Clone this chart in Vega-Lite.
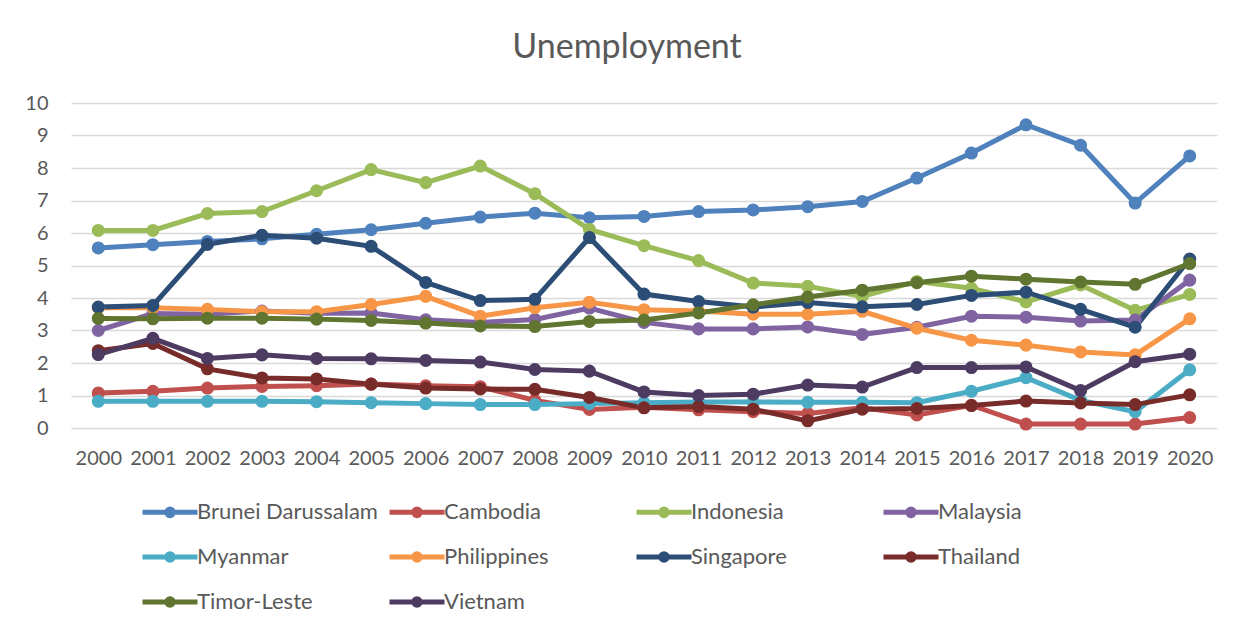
{
  "$schema": "https://vega.github.io/schema/vega-lite/v6.json",
  "width": 1146,
  "height": 325,
  "autosize": {"type": "none"},
  "padding": {"left": 71, "top": 103, "right": 18, "bottom": 204},
  "background": "white",
  "config": {
    "font": "Lato",
    "view": {"stroke": null}
  },
  "title": {
    "text": "Unemployment",
    "fontSize": 34,
    "fontWeight": "normal",
    "color": "#595959",
    "font": "Lato",
    "anchor": "middle",
    "baseline": "alphabetic",
    "offset": 1,
    "dx": -17
  },
  "data": {
    "values": [
      {"year": "2000", "Brunei Darussalam": 5.54, "Cambodia": 1.08, "Indonesia": 6.08, "Malaysia": 3.0, "Myanmar": 0.82, "Philippines": 3.7, "Singapore": 3.72, "Thailand": 2.38, "Timor-Leste": 3.37, "Vietnam": 2.26},
      {"year": "2001", "Brunei Darussalam": 5.64, "Cambodia": 1.13, "Indonesia": 6.08, "Malaysia": 3.52, "Myanmar": 0.82, "Philippines": 3.7, "Singapore": 3.77, "Thailand": 2.6, "Timor-Leste": 3.36, "Vietnam": 2.76},
      {"year": "2002", "Brunei Darussalam": 5.74, "Cambodia": 1.23, "Indonesia": 6.6, "Malaysia": 3.5, "Myanmar": 0.82, "Philippines": 3.65, "Singapore": 5.65, "Thailand": 1.82, "Timor-Leste": 3.38, "Vietnam": 2.14},
      {"year": "2003", "Brunei Darussalam": 5.82, "Cambodia": 1.28, "Indonesia": 6.66, "Malaysia": 3.6, "Myanmar": 0.82, "Philippines": 3.58, "Singapore": 5.93, "Thailand": 1.54, "Timor-Leste": 3.38, "Vietnam": 2.25},
      {"year": "2004", "Brunei Darussalam": 5.96, "Cambodia": 1.3, "Indonesia": 7.3, "Malaysia": 3.53, "Myanmar": 0.81, "Philippines": 3.58, "Singapore": 5.84, "Thailand": 1.51, "Timor-Leste": 3.35, "Vietnam": 2.14},
      {"year": "2005", "Brunei Darussalam": 6.1, "Cambodia": 1.35, "Indonesia": 7.95, "Malaysia": 3.54, "Myanmar": 0.78, "Philippines": 3.8, "Singapore": 5.59, "Thailand": 1.35, "Timor-Leste": 3.31, "Vietnam": 2.13},
      {"year": "2006", "Brunei Darussalam": 6.3, "Cambodia": 1.3, "Indonesia": 7.55, "Malaysia": 3.33, "Myanmar": 0.75, "Philippines": 4.05, "Singapore": 4.48, "Thailand": 1.23, "Timor-Leste": 3.23, "Vietnam": 2.08},
      {"year": "2007", "Brunei Darussalam": 6.49, "Cambodia": 1.27, "Indonesia": 8.06, "Malaysia": 3.25, "Myanmar": 0.72, "Philippines": 3.44, "Singapore": 3.92, "Thailand": 1.2, "Timor-Leste": 3.14, "Vietnam": 2.03},
      {"year": "2008", "Brunei Darussalam": 6.61, "Cambodia": 0.85, "Indonesia": 7.21, "Malaysia": 3.34, "Myanmar": 0.72, "Philippines": 3.7, "Singapore": 3.96, "Thailand": 1.19, "Timor-Leste": 3.12, "Vietnam": 1.8},
      {"year": "2009", "Brunei Darussalam": 6.47, "Cambodia": 0.57, "Indonesia": 6.11, "Malaysia": 3.69, "Myanmar": 0.75, "Philippines": 3.87, "Singapore": 5.86, "Thailand": 0.94, "Timor-Leste": 3.28, "Vietnam": 1.75},
      {"year": "2010", "Brunei Darussalam": 6.51, "Cambodia": 0.64, "Indonesia": 5.61, "Malaysia": 3.25, "Myanmar": 0.78, "Philippines": 3.64, "Singapore": 4.12, "Thailand": 0.62, "Timor-Leste": 3.32, "Vietnam": 1.11},
      {"year": "2011", "Brunei Darussalam": 6.66, "Cambodia": 0.56, "Indonesia": 5.15, "Malaysia": 3.05, "Myanmar": 0.8, "Philippines": 3.6, "Singapore": 3.89, "Thailand": 0.66, "Timor-Leste": 3.54, "Vietnam": 1.0},
      {"year": "2012", "Brunei Darussalam": 6.71, "Cambodia": 0.5, "Indonesia": 4.46, "Malaysia": 3.05, "Myanmar": 0.8, "Philippines": 3.5, "Singapore": 3.72, "Thailand": 0.58, "Timor-Leste": 3.79, "Vietnam": 1.04},
      {"year": "2013", "Brunei Darussalam": 6.81, "Cambodia": 0.45, "Indonesia": 4.36, "Malaysia": 3.11, "Myanmar": 0.79, "Philippines": 3.5, "Singapore": 3.86, "Thailand": 0.22, "Timor-Leste": 4.03, "Vietnam": 1.32},
      {"year": "2014", "Brunei Darussalam": 6.97, "Cambodia": 0.62, "Indonesia": 4.05, "Malaysia": 2.88, "Myanmar": 0.79, "Philippines": 3.59, "Singapore": 3.73, "Thailand": 0.58, "Timor-Leste": 4.24, "Vietnam": 1.26},
      {"year": "2015", "Brunei Darussalam": 7.69, "Cambodia": 0.4, "Indonesia": 4.51, "Malaysia": 3.1, "Myanmar": 0.78, "Philippines": 3.07, "Singapore": 3.8, "Thailand": 0.6, "Timor-Leste": 4.47, "Vietnam": 1.86},
      {"year": "2016", "Brunei Darussalam": 8.46, "Cambodia": 0.7, "Indonesia": 4.3, "Malaysia": 3.44, "Myanmar": 1.13, "Philippines": 2.7, "Singapore": 4.08, "Thailand": 0.69, "Timor-Leste": 4.67, "Vietnam": 1.86},
      {"year": "2017", "Brunei Darussalam": 9.33, "Cambodia": 0.12, "Indonesia": 3.88, "Malaysia": 3.41, "Myanmar": 1.55, "Philippines": 2.55, "Singapore": 4.18, "Thailand": 0.83, "Timor-Leste": 4.58, "Vietnam": 1.88},
      {"year": "2018", "Brunei Darussalam": 8.7, "Cambodia": 0.12, "Indonesia": 4.4, "Malaysia": 3.29, "Myanmar": 0.85, "Philippines": 2.34, "Singapore": 3.65, "Thailand": 0.77, "Timor-Leste": 4.49, "Vietnam": 1.15},
      {"year": "2019", "Brunei Darussalam": 6.92, "Cambodia": 0.12, "Indonesia": 3.62, "Malaysia": 3.32, "Myanmar": 0.5, "Philippines": 2.25, "Singapore": 3.1, "Thailand": 0.72, "Timor-Leste": 4.42, "Vietnam": 2.04},
      {"year": "2020", "Brunei Darussalam": 8.37, "Cambodia": 0.32, "Indonesia": 4.11, "Malaysia": 4.55, "Myanmar": 1.79, "Philippines": 3.36, "Singapore": 5.2, "Thailand": 1.02, "Timor-Leste": 5.06, "Vietnam": 2.27}
    ]
  },
  "transform": [
    {"fold": ["Brunei Darussalam", "Cambodia", "Indonesia", "Malaysia", "Myanmar", "Philippines", "Singapore", "Thailand", "Timor-Leste", "Vietnam"], "as": ["country", "value"]}
  ],
  "mark": {"type": "line", "strokeWidth": 5, "point": {"filled": true, "size": 170, "opacity": 1}},
  "encoding": {
    "x": {
      "field": "year", "type": "ordinal",
      "scale": {"type": "point", "padding": 0.5},
      "axis": {"title": null, "labelAngle": 0, "labelFontSize": 20, "labelColor": "#595959", "labelPadding": 20, "domain": false, "ticks": false, "grid": false}
    },
    "y": {
      "field": "value", "type": "quantitative",
      "scale": {"domain": [0, 10], "nice": false},
      "axis": {"title": null, "values": [0,1,2,3,4,5,6,7,8,9,10], "labelFontSize": 20, "labelColor": "#595959", "labelPadding": 23, "domain": false, "ticks": false, "gridColor": "#D9D9D9", "gridWidth": 1.5}
    },
    "color": {
      "field": "country", "type": "nominal",
      "scale": {
        "domain": ["Brunei Darussalam", "Cambodia", "Indonesia", "Malaysia", "Myanmar", "Philippines", "Singapore", "Thailand", "Timor-Leste", "Vietnam"],
        "range": ["#4F81BD", "#C0504D", "#9BBB59", "#8064A2", "#4BACC6", "#F79646", "#2C4D75", "#772C2A", "#5F7530", "#4D3B62"]
      },
      "legend": {
        "title": null,
        "orient": "none",
        "legendX": 88,
        "legendY": 398,
        "direction": "horizontal",
        "columns": 4,
        "gridAlign": "all",
        "columnPadding": 1,
        "rowPadding": 17,
        "labelFontSize": 22,
        "labelColor": "#595959",
        "labelFont": "Lato",
        "labelOffset": 16,
        "labelLimit": 300,
        "symbolType": "M-5,0 H5 M-0.6,0 A0.6,0.6 0 1,1 0.6,0 A0.6,0.6 0 1,1 -0.6,0",
        "symbolSize": 121,
        "symbolStrokeWidth": 5,
        "symbolOpacity": 1
      }
    }
  }
}
